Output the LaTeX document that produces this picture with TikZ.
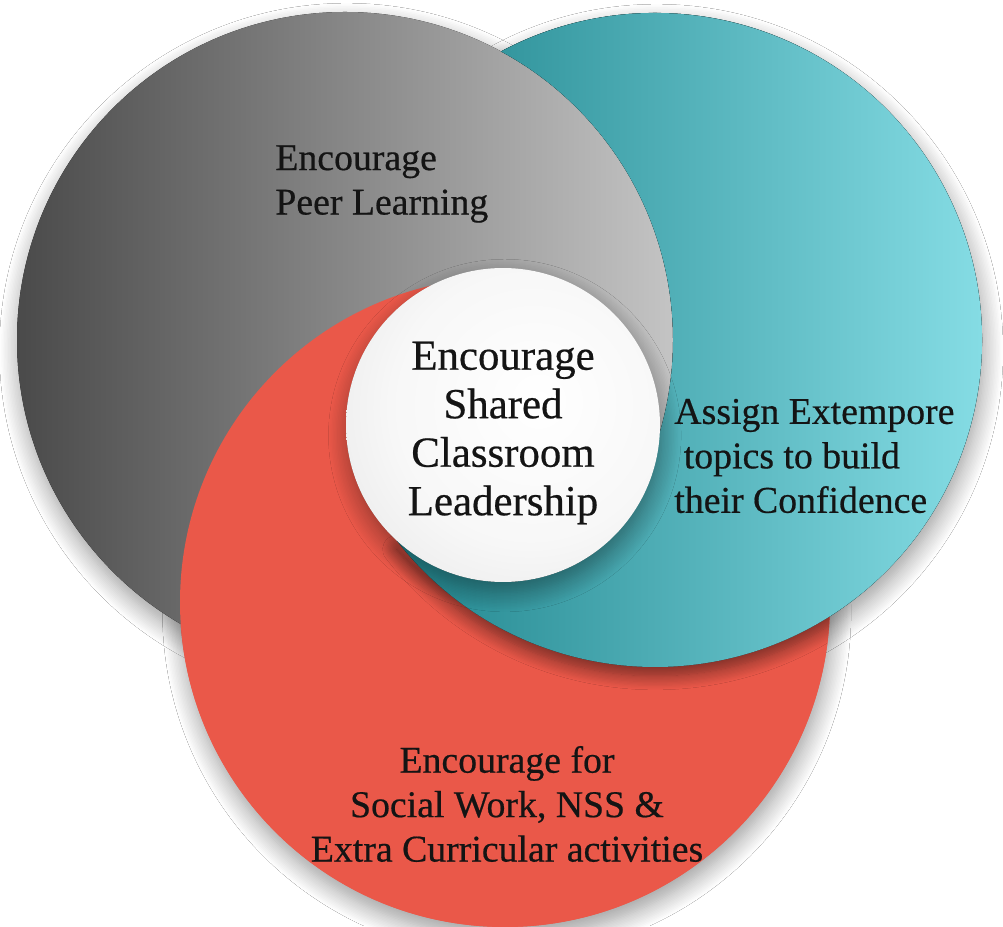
\documentclass[tikz,border=0pt]{standalone}
\usepackage{fontspec}
\setmainfont{Liberation Serif}[FakeBold=0.5]
\usetikzlibrary{shadows.blur}

\definecolor{grayL}{HTML}{4A4A4A}
\definecolor{grayR}{HTML}{C4C4C4}
\definecolor{tealL}{HTML}{22878F}
\definecolor{tealR}{HTML}{8DE3EB}
\definecolor{redF}{HTML}{EA5849}

\pgfdeclareradialshading{leadball}{\pgfpoint{6bp}{4bp}}{color(0bp)=(white); color(22bp)=(white!97!black); color(50bp)=(black!14); color(80bp)=(black!14)}

\begin{document}
\begin{tikzpicture}[x=0.02cm, y=0.02cm,
  softshadow/.style={blur shadow={shadow xshift=1pt, shadow yshift=-6pt, shadow blur radius=11pt, shadow blur steps=14, shadow opacity=40}},
  edgeshadow/.style={blur shadow={shadow xshift=0pt, shadow yshift=-5pt, shadow blur radius=8pt, shadow blur steps=12, shadow opacity=50}},
  peer/.style={left color=grayL, right color=grayR},
  ext/.style={left color=tealL, right color=tealR},
  soc/.style={fill=redF},
  txt/.style={inner sep=0pt, text=black!92, font=\fontsize{21.5pt}{25.3pt}\selectfont}]
  \useasboundingbox[fill=white] (0,0) rectangle (1003,926);
  \coordinate (G) at (345,586);
  \coordinate (T) at (655,586);
  \coordinate (R) at (505,324);
  \coordinate (W) at (503,501);
  % the three discs
  \fill[ext, softshadow] (T) circle[radius=327];
  \fill[soc, softshadow] (R) circle[radius=325];
  \fill[peer, softshadow] (G) circle[radius=328];
  % red in front of gray, with the shadow of the teal part on it
  \begin{scope}
    \fill[soc] ([shift={(-2.55:325)}]R) arc[start angle=-2.55, end angle=-256.81, radius=325]
      arc[start angle=117.35, end angle=227.4, radius=157]
      arc[start angle=217.83, end angle=302.29, radius=327] -- cycle;
    \clip ([shift={(-2.55:325)}]R) arc[start angle=-2.55, end angle=-256.81, radius=325]
      arc[start angle=117.35, end angle=227.4, radius=157]
      arc[start angle=217.83, end angle=302.29, radius=327] -- cycle;
    \path[edgeshadow] ([shift={(118.08:327)}]T) arc[start angle=118.08, end angle=-142.17, radius=327]
      arc[start angle=227.4, end angle=306.03, radius=157]
      arc[start angle=-40.25, end angle=61.6, radius=328] -- cycle;
  \end{scope}
  % teal in front of red
  \fill[ext] ([shift={(118.08:327)}]T) arc[start angle=118.08, end angle=-142.17, radius=327]
    arc[start angle=227.4, end angle=306.03, radius=157]
    arc[start angle=-40.25, end angle=61.6, radius=328] -- cycle;
  \node[circle, minimum size=6.28cm, inner sep=0pt, shading=leadball, softshadow] (lead) at (W) {};
  \node[inner sep=0pt, align=center, text=black!92, font=\fontsize{24.4pt}{27.6pt}\selectfont]
    (leadlbl) at (503,493) {Encourage\\Shared\\Classroom\\Leadership};
  \node[txt, anchor=west, align=left] (peerlbl) at (275,742) {Encourage\\Peer Learning};
  \node[txt, anchor=west, align=left] (extlbl) at (674,470)
    {Assign Extempore\\\hspace*{0.25em}topics to build\\their Confidence};
  \node[txt, align=center] (soclbl) at (507,122)
    {Encourage for\\Social Work, NSS \&\\Extra Curricular activities};
\end{tikzpicture}
\end{document}
